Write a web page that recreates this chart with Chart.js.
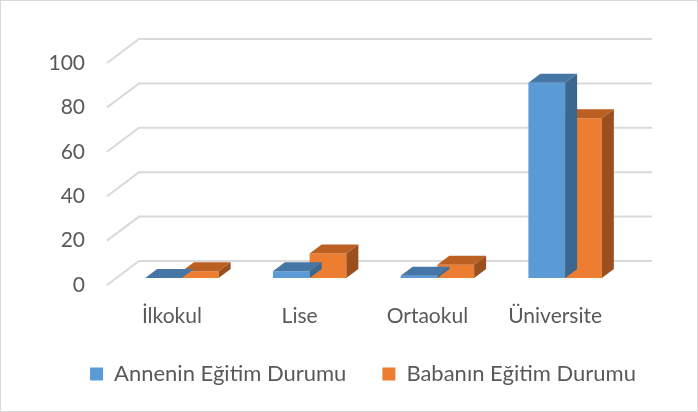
<!DOCTYPE html>
<html>
<head>
<meta charset="utf-8">
<script src="https://cdn.jsdelivr.net/npm/chart.js@4"></script>
<style>
  html, body { margin: 0; padding: 0; background: #fff; }
</style>
</head>
<body>
<canvas id="chart" width="698" height="412"></canvas>
<script>
// Data
const categories = ["İlkokul", "Lise", "Ortaokul", "Üniversite"];
const anneValues = [0, 3, 1, 88];
const babaValues = [3, 11, 6, 72];
const yTicks = [0, 20, 40, 60, 80, 100];

// 3D look: depth of the boxes and offsets of back wall / floor front edge
const DEPTH_X = 12, DEPTH_Y = 9;
const WALL_DX = 21, WALL_DY = -17;
const FRONT_DX = -11, FRONT_DY = 7;

const textColor = "#595959";
const font = { family: "Lato", size: 21 };

const threeDPlugin = {
  id: "threeD",
  beforeDraw(chart) {
    const ctx = chart.ctx;
    ctx.save();
    ctx.fillStyle = "#fff";
    ctx.fillRect(0, 0, chart.width, chart.height);
    ctx.strokeStyle = "#d9d9d9";
    ctx.lineWidth = 1;
    ctx.strokeRect(0.5, 0.5, chart.width - 1, chart.height - 1);
    ctx.restore();
  },
  beforeDatasetsDraw(chart) {
    const ctx = chart.ctx;
    const y = chart.scales.y;
    const area = chart.chartArea;
    ctx.save();
    ctx.strokeStyle = "#d9d9d9";
    ctx.lineWidth = 2;
    yTicks.forEach(v => {
      const py = y.getPixelForValue(v);
      ctx.beginPath();
      ctx.moveTo(area.left + FRONT_DX, py + FRONT_DY);
      ctx.lineTo(area.left + WALL_DX, py + WALL_DY);
      ctx.lineTo(area.right + WALL_DX + 2, py + WALL_DY);
      ctx.stroke();
    });
    ctx.restore();
  },
  afterDatasetDraw(chart, args) {
    const ctx = chart.ctx;
    const ds = chart.data.datasets[args.index];
    ctx.save();
    args.meta.data.forEach(bar => {
      const { x, y, base, width } = bar.getProps(["x", "y", "base", "width"], true);
      const l = x - width / 2, r = x + width / 2;
      // top face
      ctx.fillStyle = ds.topColor;
      ctx.beginPath();
      ctx.moveTo(l, y);
      ctx.lineTo(l + DEPTH_X, y - DEPTH_Y);
      ctx.lineTo(r + DEPTH_X, y - DEPTH_Y);
      ctx.lineTo(r, y);
      ctx.closePath();
      ctx.fill();
      // side face
      ctx.fillStyle = ds.sideColor;
      ctx.beginPath();
      ctx.moveTo(r, y);
      ctx.lineTo(r + DEPTH_X, y - DEPTH_Y);
      ctx.lineTo(r + DEPTH_X, base - DEPTH_Y);
      ctx.lineTo(r, base);
      ctx.closePath();
      ctx.fill();
    });
    ctx.restore();
  }
};

new Chart(document.getElementById("chart"), {
  type: "bar",
  data: {
    labels: categories,
    datasets: [
      {
        label: "Annenin Eğitim Durumu",
        data: anneValues,
        backgroundColor: "#5b9bd5",
        topColor: "#4676a6",
        sideColor: "#3a6690",
        categoryPercentage: 0.575,
        barPercentage: 1
      },
      {
        label: "Babanın Eğitim Durumu",
        data: babaValues,
        backgroundColor: "#ed7d31",
        topColor: "#bc5f22",
        sideColor: "#9c4f1e",
        categoryPercentage: 0.575,
        barPercentage: 1
      }
    ]
  },
  options: {
    responsive: false,
    animation: false,
    layout: { padding: { top: 56, left: 28, right: 0, bottom: 17 } },
    plugins: {
      tooltip: { enabled: false },
      legend: {
        position: "bottom",
        labels: {
          boxWidth: 13,
          boxHeight: 13,
          padding: 36,
          color: textColor,
          font: { family: "Lato", size: 22 }
        }
      }
    },
    scales: {
      x: {
        grid: { display: false, drawTicks: false },
        border: { display: false },
        // mirrored so the labels are not clipped to the short axis box
        ticks: { color: textColor, font: font, padding: -51, mirror: true, labelOffset: -10, maxRotation: 0 },
        afterFit(scale) { scale.height = 49; }
      },
      y: {
        min: 0,
        max: 100,
        grid: { display: false, drawTicks: false },
        border: { display: false },
        ticks: { stepSize: 20, color: textColor, font: font, padding: 33, labelOffset: 7 },
        afterFit(scale) { scale.width = 90; }
      },
      // empty right-hand axis that only reserves the space right of the plot
      yRight: {
        position: "right",
        grid: { display: false },
        border: { display: false },
        ticks: { display: false },
        afterFit(scale) { scale.width = 69; }
      }
    }
  },
  plugins: [threeDPlugin]
});
</script>
</body>
</html>
